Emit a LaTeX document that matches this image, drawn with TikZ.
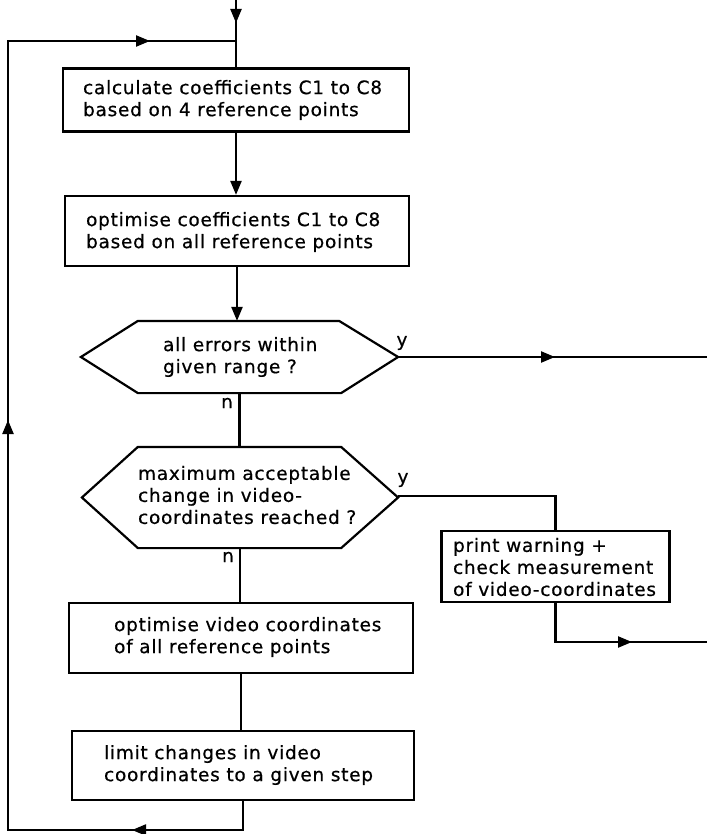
\documentclass[tikz,border=0pt]{standalone}
\usepackage{fontspec}
\newfontfamily\diafont{DejaVu Sans}[FakeBold=0.6,LetterSpace=4]
\usetikzlibrary{arrows.meta}
\begin{document}
\begin{tikzpicture}[x=1pt,y=-1pt,line width=2.2pt,
  box/.style={draw,rectangle,inner sep=0pt},
  hexbase/.style={rectangle,inner sep=0pt},
  txt/.style={anchor=west,align=left,inner sep=0pt,font=\diafont\fontsize{18.5}{22}\selectfont},
  lbl/.style={inner sep=0pt,font=\diafont\fontsize{18.5}{22}\selectfont},
  tip/.style={-{Triangle[length=14pt,width=11pt]}}]
\useasboundingbox (0,0) rectangle (707,834);

% boxes
\node[box,minimum width=346pt,minimum height=63pt] (b1) at (236,100) {};
\node[txt] (t1) at (82,100) {calculate coefficients C1 to C8\\based on 4 reference points};
\node[box,minimum width=344pt,minimum height=70pt] (b2) at (237,231) {};
\node[txt] (t2) at (85,232) {optimise coefficients C1 to C8\\based on all reference points};

\node[hexbase,minimum width=315pt,minimum height=70pt] (h1) at (239.5,357) {};
\draw (h1.west) -- ([xshift=57pt]h1.north west) -- ([xshift=-59pt]h1.north east) -- (h1.east)
  -- ([xshift=-57pt]h1.south east) -- ([xshift=57pt]h1.south west) -- cycle;
\node[txt] (t3) at (162,357) {all errors within\\given range ?};

\node[hexbase,minimum width=314pt,minimum height=99pt] (h2) at (240,497.5) {};
\draw (h2.west) -- ([xshift=56pt]h2.north west) -- ([xshift=-57pt]h2.north east) -- (h2.east)
  -- ([xshift=-57pt]h2.south east) -- ([xshift=56pt]h2.south west) -- cycle;
\node[txt] (t4) at (137,495) {maximum acceptable\\change in video-\\coordinates reached ?};

\node[box,minimum width=344pt,minimum height=70pt] (b3) at (241,638) {};
\node[txt] (t5) at (113,637) {optimise video coordinates\\of all reference points};
\node[box,minimum width=342pt,minimum height=69pt] (b4) at (243,765.5) {};
\node[txt] (t6) at (103,765) {limit changes in video\\coordinates to a given step};

\node[box,minimum width=228pt,minimum height=71pt] (w) at (555.5,566.5) {};
\node[txt] (t7) at (452,567) {print warning +\\check measurement\\of video-coordinates};

% labels
\node[lbl] (y1) at (402,343) {y};
\node[lbl] (y2) at (403,480) {y};
\node[lbl] (n1) at (227,403) {n};
\node[lbl] (n2) at (228,557) {n};

% coordinates
\coordinate (top) at (236,0);
\coordinate (topA) at (236,23);
\coordinate (L1) at (8,41);
\coordinate (A1) at (150,41);
\coordinate (L2) at (8,830);
\coordinate (A2) at (8,420);
\coordinate (A3) at (132,830);
\coordinate (E1) at (707,357);
\coordinate (A4) at (555,357);
\coordinate (K1) at (555.5,496);
\coordinate (K2) at (555.5,642);
\coordinate (E2) at (707,642);
\coordinate (A5) at (632,642);

% main flow
\draw (top) -- (b1.north);
\draw[tip] (top) -- (topA);
\draw[tip] (b1.south) -- (b1.south |- b2.north);
\draw[tip] (b2.south) -- (b2.south |- h1.north);
\draw (h1.south) -- (h1.south |- h2.north);
\draw (h2.south) -- (h2.south |- b3.north);
\draw (b3.south) -- (b3.south |- b4.north);

% loop back
\draw (b4.south) -- (b4.south |- L2) -- (L2) -- (L1) -- (L1 -| b1.north);
\draw[tip] (b4.south |- L2) -- (A3);
\draw[tip] (L2) -- (A2);
\draw[tip] (L1) -- (A1);

% yes branches
\draw (h1.east) -- (E1);
\draw[tip] (h1.east) -- (A4);
\draw (h2.east |- K1) -- (K1) -- (w.north);
\draw (w.south) -- (K2) -- (E2);
\draw[tip] (K2) -- (A5);
\end{tikzpicture}
\end{document}
